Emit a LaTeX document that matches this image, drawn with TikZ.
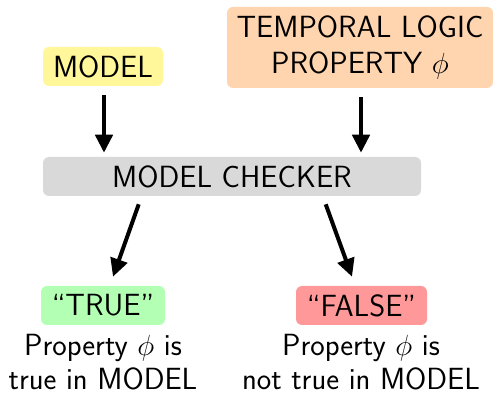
\documentclass[tikz,border=0pt]{standalone}
\usepackage{amsmath}
\usetikzlibrary{arrows.meta}
\definecolor{mc_yellow}{RGB}{255, 247, 153}
\definecolor{mc_orange}{RGB}{255, 213, 176}
\definecolor{mc_gray}{RGB}{217, 217, 217}
\definecolor{mc_green}{RGB}{179, 255, 179}
\definecolor{mc_red}{RGB}{255, 153, 153}
\tikzstyle{box}=[rounded corners=0.15cm,inner sep=0pt,minimum height=0.975cm,
  font=\sffamily\fontsize{21.8}{25.5}\selectfont,align=center]
\tikzstyle{note}=[inner sep=0pt,font=\sffamily\fontsize{21.8}{24}\selectfont,align=center]
\tikzstyle{arr}=[-{Triangle[length=0.45cm,width=0.43cm]},line width=0.1cm]

\begin{document}
\begin{tikzpicture}
    \useasboundingbox (0,0) rectangle (12.325,-9.85);
    \node [style=box,fill=mc_yellow,minimum width=3cm] (model) at (2.575,-1.6625) {MODEL};
    \node [style=box,fill=mc_orange,minimum width=6.65cm,minimum height=2.025cm] (property) at (9.0,-1.1875) {TEMPORAL LOGIC\\PROPERTY $\phi$};
    \node [style=box,fill=mc_gray,minimum width=9.45cm] (checker) at (5.8,-4.4125) {MODEL CHECKER};
    \node [style=box,fill=mc_green,minimum width=3.1cm] (true) at (2.575,-7.6375) {``TRUE''};
    \node [style=box,fill=mc_red,minimum width=3.275cm] (false) at (9.0375,-7.6375) {``FALSE''};
    \node [style=note] (truetext) at (2.575,-9.05) {Property $\phi$ is\\true in MODEL};
    \node [style=note] (falsetext) at (9.025,-9.05) {Property $\phi$ is\\not true in MODEL};
    \draw [style=arr] ([xshift=0.025cm,yshift=-0.225cm]model.south) to ([xshift=0.025cm,yshift=0.1cm]model.south |- checker.north);
    \draw [style=arr] ([xshift=0.025cm,yshift=-0.225cm]property.south) to ([xshift=0.025cm,yshift=0.1cm]property.south |- checker.north);
    \draw [style=arr] ([xshift=2.4cm,yshift=-0.2cm]checker.south west) to ([xshift=0.25cm,yshift=0.225cm]true.north);
    \draw [style=arr] ([xshift=7.075cm,yshift=-0.2cm]checker.south west) to ([xshift=-0.2375cm,yshift=0.225cm]false.north);
  \end{tikzpicture}
\end{document}
